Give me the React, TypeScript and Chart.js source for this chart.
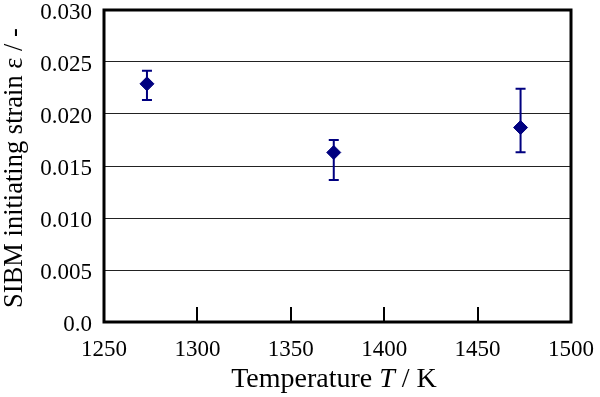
import React, { useEffect, useRef } from "react";
import { Chart, registerables } from "chart.js";

Chart.register(...registerables);

const temperatures = [1273, 1373, 1473];
const strainMean = [0.0229, 0.0163, 0.0187];
const strainLow = [0.02135, 0.01365, 0.01632];
const strainHigh = [0.02417, 0.0175, 0.02243];
const xTickMin = 1250;
const xTickMax = 1500;
const xTickStep = 50;
const yTickMin = 0;
const yTickMax = 0.03;
const yTickStep = 0.005;
const xTitleParts = ["Temperature ", "T", " / K"];
const yTitle = "SIBM initiating strain ε / -";

const FONT = "'Liberation Serif', 'Times New Roman', serif";
const NAVY = "#000080";

const decorPlugin = {
  id: "decor",
  beforeDatasetsDraw(chart: any) {
    const { ctx, scales } = chart;
    const xs = scales.x;
    const ys = scales.y;
    ctx.save();
    ctx.strokeStyle = NAVY;
    ctx.lineWidth = 2;
    for (let i = 0; i < temperatures.length; i++) {
      const px = xs.getPixelForValue(temperatures[i]);
      const pl = ys.getPixelForValue(strainLow[i]);
      const ph = ys.getPixelForValue(strainHigh[i]);
      ctx.beginPath();
      ctx.moveTo(px, pl);
      ctx.lineTo(px, ph);
      ctx.moveTo(px - 5, pl);
      ctx.lineTo(px + 5, pl);
      ctx.moveTo(px - 5, ph);
      ctx.lineTo(px + 5, ph);
      ctx.stroke();
    }
    ctx.restore();
  },
  afterDraw(chart: any) {
    const { ctx, chartArea, scales } = chart;
    const xs = scales.x;
    ctx.save();
    ctx.strokeStyle = "#000";
    ctx.lineWidth = 3;
    ctx.strokeRect(chartArea.left, chartArea.top, chartArea.right - chartArea.left, chartArea.bottom - chartArea.top);
    ctx.lineWidth = 2;
    const ticks = xs.ticks;
    for (let i = 1; i < ticks.length - 1; i++) {
      const px = Math.round(xs.getPixelForValue(ticks[i].value));
      ctx.beginPath();
      ctx.moveTo(px, chartArea.bottom);
      ctx.lineTo(px, chartArea.bottom - 15);
      ctx.stroke();
    }
    ctx.fillStyle = "#000";
    ctx.textBaseline = "alphabetic";
    ctx.textAlign = "left";
    const fonts = [`28px ${FONT}`, `italic 28px ${FONT}`, `28px ${FONT}`];
    let total = 0;
    const widths: number[] = [];
    for (let i = 0; i < xTitleParts.length; i++) {
      ctx.font = fonts[i];
      const w = ctx.measureText(xTitleParts[i]).width;
      widths.push(w);
      total += w;
    }
    let x = (chartArea.left + chartArea.right) / 2 - 3.5 - total / 2;
    const y = chartArea.bottom + 65;
    for (let i = 0; i < xTitleParts.length; i++) {
      ctx.font = fonts[i];
      ctx.fillText(xTitleParts[i], x, y);
      x += widths[i];
    }
    ctx.translate(22, (chartArea.top + chartArea.bottom) / 2 + 2);
    ctx.rotate(-Math.PI / 2);
    ctx.font = `26.5px ${FONT}`;
    ctx.textAlign = "center";
    ctx.fillText(yTitle, 0, 0);
    ctx.restore();
  },
};

export default function App() {
  const ref = useRef<HTMLCanvasElement>(null);
  useEffect(() => {
    if (!ref.current) return;
    const chart = new Chart(ref.current, {
      type: "scatter",
      data: {
        datasets: [
          {
            data: temperatures.map((t, i) => ({ x: t, y: strainMean[i] })),
            pointStyle: "rectRot",
            pointRadius: 7,
            pointHoverRadius: 7,
            backgroundColor: NAVY,
            borderColor: NAVY,
            borderWidth: 1,
          },
        ],
      },
      options: {
        animation: false,
        responsive: false,
        layout: { padding: { top: 10, right: 29, left: 0, bottom: 0 } },
        plugins: { legend: { display: false }, tooltip: { enabled: false } },
        scales: {
          x: {
            type: "linear",
            min: xTickMin,
            max: xTickMax,
            ticks: {
              stepSize: xTickStep,
              color: "#000",
              font: { family: FONT, size: 23 },
              padding: 14,
              maxRotation: 0,
              callback: (v: any) => String(v),
            },
            grid: { display: false, drawTicks: false },
            border: { display: false },
            afterFit(scale: any) {
              scale.height = 75;
              scale.paddingLeft = 0;
              scale.paddingRight = 0;
            },
          },
          y: {
            min: yTickMin,
            max: yTickMax,
            ticks: {
              stepSize: yTickStep,
              color: "#000",
              font: { family: FONT, size: 23 },
              padding: 12,
              labelOffset: 3,
              callback: (v: any) => (Number(v) === 0 ? "0.0" : Number(v).toFixed(3)),
            },
            grid: { color: "#222", lineWidth: 1, drawTicks: false },
            border: { display: false },
            afterFit(scale: any) {
              scale.width = 104;
              scale.paddingTop = 0;
              scale.paddingBottom = 0;
            },
          },
        },
      },
      plugins: [decorPlugin],
    });
    return () => chart.destroy();
  }, []);
  return (
    <div style={{ position: "fixed", left: 0, top: 0, width: 600, height: 397, background: "#fff" }}>
      <canvas ref={ref} width={600} height={397} style={{ width: 600, height: 397 }} />
    </div>
  );
}
